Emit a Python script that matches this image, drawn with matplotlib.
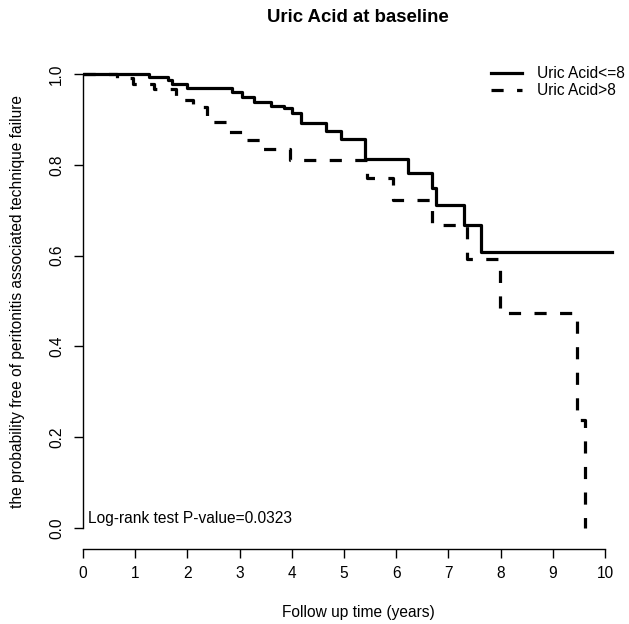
import matplotlib
matplotlib.use("Agg")
import matplotlib.pyplot as plt
from matplotlib.lines import Line2D

# Kaplan-Meier step data
times_le8 = [0, 1.27, 1.63, 1.71, 2.0, 2.86, 3.05, 3.28, 3.61, 3.86, 4.01, 4.18,
             4.66, 4.95, 5.41, 6.22, 6.68, 6.77, 7.29, 7.63, 10.13]
surv_le8 = [1.0, 0.994, 0.987, 0.978, 0.969, 0.960, 0.950, 0.939, 0.930, 0.925,
            0.914, 0.893, 0.874, 0.856, 0.812, 0.782, 0.749, 0.711, 0.667, 0.608, 0.608]

times_gt8 = [0, 0.65, 0.95, 1.36, 1.78, 2.1, 2.38, 2.8, 3.09, 3.42, 3.96, 5.45,
             5.93, 6.68, 7.35, 7.98, 9.46, 9.62]
surv_gt8 = [1.0, 0.991, 0.978, 0.967, 0.943, 0.928, 0.895, 0.873, 0.855, 0.835,
            0.81, 0.771, 0.722, 0.667, 0.593, 0.474, 0.238, 0.0]

labels = ["Uric Acid<=8", "Uric Acid>8"]
xticks = list(range(0, 11))
yticks = [0.0, 0.2, 0.4, 0.6, 0.8, 1.0]

plt.rcParams['font.family'] = ['Liberation Sans', 'DejaVu Sans']

W, H = 629, 624
FS = 11.2
fig = plt.figure(figsize=(W / 100, H / 100), dpi=100)
left, right, top, bottom = 83, 633, 56, 546
ax = fig.add_axes([left / W, 1 - bottom / H, (right - left) / W, (bottom - top) / H])

lw = 2.3
dash = (3.8, 4.2)
ax.step(times_le8, surv_le8, where='post', color='black', lw=lw)
l2, = ax.step(times_gt8, surv_gt8, where='post', color='black', lw=lw)
l2.set_dashes(dash)

ax.set_xlim(0, (right - left) / 52.2)
ax.set_ylim(-0.04, 1.04)

for s in ['top', 'right']:
    ax.spines[s].set_visible(False)
ax.spines['left'].set_bounds(0, 1)
ax.spines['bottom'].set_bounds(0, 10)
ax.spines['bottom'].set_position(('outward', 2))
for s in ['left', 'bottom']:
    ax.spines[s].set_linewidth(1.0)

ax.set_xticks(xticks)
ax.set_xticklabels([str(x) for x in xticks], fontsize=FS)
ax.set_yticks(yticks)
ax.set_yticklabels([f"{y:.1f}" for y in yticks], fontsize=FS, rotation=90, va='center')
ax.tick_params(axis='both', direction='out', length=6.5, width=1.0)
ax.tick_params(axis='x', pad=6)
ax.tick_params(axis='y', pad=7)

fig.text(358 / W, 1 - 613 / H, "Follow up time (years)", ha='center', va='center',
         fontsize=FS)
fig.text(18 / W, 1 - 301 / H,
         "the probability free of peritonitis associated technique failure",
         ha='center', va='center', rotation=90, fontsize=FS)
fig.text(358 / W, 1 - 18 / H, "Uric Acid at baseline", ha='center', va='center',
         fontsize=13.4, fontweight='bold')

ax.text(0.1, 0.005, "Log-rank test P-value=0.0323", ha='left', va='bottom', fontsize=FS)

h1 = Line2D([], [], color='black', lw=lw)
h2 = Line2D([], [], color='black', lw=lw, dashes=dash)
ax.legend([h1, h2], labels, loc='upper left', bbox_to_anchor=(491 / W, 1 - 66 / H),
          bbox_transform=fig.transFigure, frameon=False, fontsize=FS,
          handlelength=2.0, handletextpad=0.95, labelspacing=0.15,
          borderpad=0, borderaxespad=0)

fig.savefig("out.png", dpi=100)
